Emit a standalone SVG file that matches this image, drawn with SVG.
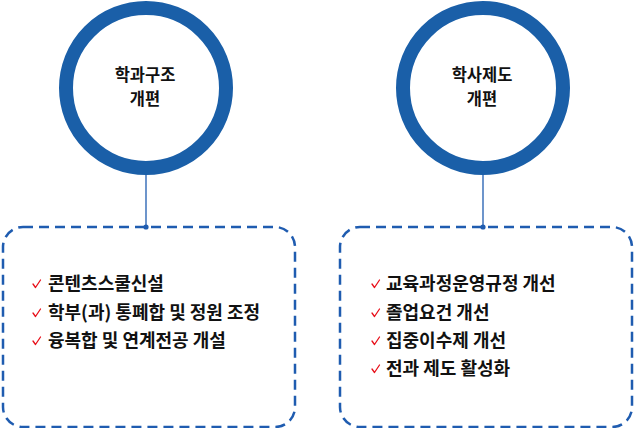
<svg xmlns="http://www.w3.org/2000/svg" width="634" height="428" viewBox="0 0 634 428">
<style>
.ring{fill:#fff;stroke:#1a5fa8;stroke-width:14}
.box{fill:none;stroke:#1f5cb0;stroke-width:2.5;stroke-dasharray:10 6}
.conn{stroke:#1f5cb0;stroke-width:1.3;fill:none}
.dot{fill:#1f5cb0}
.title{font-family:"Noto Sans CJK KR","Noto Sans",sans-serif;font-size:16.5px;font-weight:700;fill:#111;text-anchor:middle}
.item{font-family:"Noto Sans CJK KR","Noto Sans",sans-serif;font-size:18px;font-weight:600;fill:#111}
.chk{fill:none;stroke:#e8101a;stroke-width:1.3;stroke-linecap:round;stroke-linejoin:round}
</style>
<defs>
<path id="tick" class="chk" d="M0,0 L2.5,3.5 L7.5,-4"/>
</defs>
<g id="connectors">
<line class="conn" x1="146" y1="174" x2="146" y2="227"/>
<circle class="dot" cx="146" cy="227" r="2.6"/>
<line class="conn" x1="483" y1="174" x2="483" y2="227"/>
<circle class="dot" cx="483" cy="227" r="2.6"/>
</g>
<g id="node-circle1">
<circle class="ring" cx="146" cy="88" r="80"/>
<text class="title" x="145" y="80.5">학과구조</text>
<text class="title" x="145" y="104.5">개편</text>
</g>
<g id="node-circle2">
<circle class="ring" cx="483" cy="88" r="80"/>
<text class="title" x="482" y="80.5">학사제도</text>
<text class="title" x="482" y="104.5">개편</text>
</g>
<g id="node-box1">
<rect class="box" x="3" y="227" width="292" height="200" rx="20"/>
<use href="#tick" x="33" y="284"/>
<text class="item" x="48" y="290">콘텐츠스쿨신설</text>
<use href="#tick" x="33" y="313"/>
<text class="item" x="48" y="318.5">학부(과) 통폐합 및 정원 조정</text>
<use href="#tick" x="33" y="341"/>
<text class="item" x="48" y="347">융복합 및 연계전공 개설</text>
</g>
<g id="node-box2">
<rect class="box" x="340" y="227" width="292" height="200" rx="20"/>
<use href="#tick" x="372" y="284"/>
<text class="item" x="386" y="290">교육과정운영규정 개선</text>
<use href="#tick" x="372" y="313"/>
<text class="item" x="386" y="318.5">졸업요건 개선</text>
<use href="#tick" x="372" y="341"/>
<text class="item" x="386" y="347">집중이수제 개선</text>
<use href="#tick" x="372" y="369"/>
<text class="item" x="386" y="375">전과 제도 활성화</text>
</g>
</svg>
